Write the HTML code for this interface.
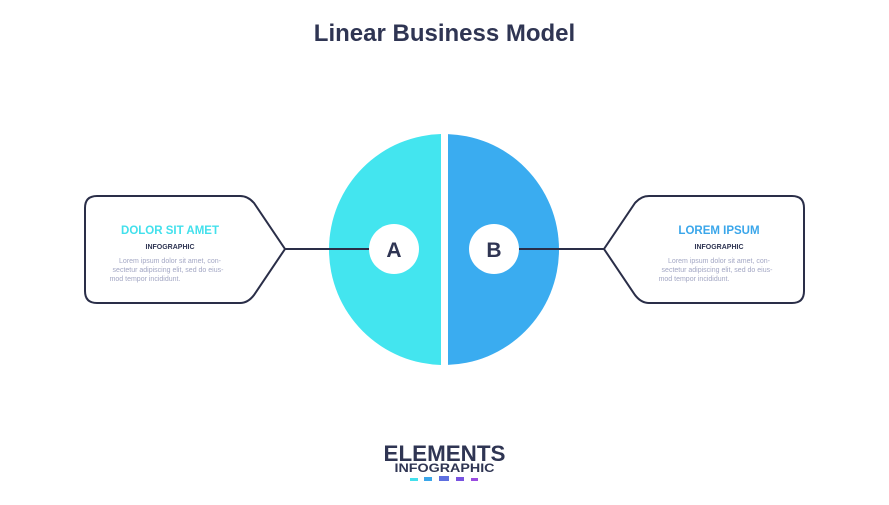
<!DOCTYPE html>
<html><head><meta charset="utf-8"><style>
body{margin:0;background:#fff;width:889px;height:500px;overflow:hidden}
svg text{font-family:"Liberation Sans",sans-serif}
</style></head><body>
<svg width="889" height="500" viewBox="0 0 889 500">
<defs>
<clipPath id="l"><rect x="300" y="120" width="141" height="260"/></clipPath>
<clipPath id="r"><rect x="448" y="120" width="141" height="260"/></clipPath>
</defs>
<text x="444.5" y="41" text-anchor="middle" font-size="24" font-weight="bold" fill="#2f3553">Linear Business Model</text>
<ellipse cx="444" cy="249.5" rx="115" ry="115.5" fill="#43e5ef" clip-path="url(#l)"/>
<ellipse cx="444" cy="249.5" rx="115" ry="115.5" fill="#3aacf0" clip-path="url(#r)"/>
<g fill="none" stroke="#2a2e48" stroke-width="2">
<path d="M97,196 L240,196 Q248,196 254,203 L285,249 L254,295 Q248,303 240,303 L97,303 Q85,303 85,291 L85,208 Q85,196 97,196 Z"/>
<line x1="285" y1="249" x2="372" y2="249"/>
<path d="M792,196 L649,196 Q641,196 635,203 L604,249 L635,295 Q641,303 649,303 L792,303 Q804,303 804,291 L804,208 Q804,196 792,196 Z"/>
<line x1="604" y1="249" x2="517" y2="249"/>
</g>
<circle cx="394" cy="249" r="25" fill="#fff"/>
<circle cx="494" cy="249" r="25" fill="#fff"/>
<text x="394" y="257" text-anchor="middle" font-size="21" font-weight="bold" fill="#2f3553">A</text>
<text x="494" y="257" text-anchor="middle" font-size="21" font-weight="bold" fill="#2f3553">B</text>
<text x="170" y="234" text-anchor="middle" font-size="11.5" font-weight="bold" fill="#43e0ec">DOLOR SIT AMET</text>
<text x="170" y="249" text-anchor="middle" font-size="7" font-weight="bold" fill="#2f3553">INFOGRAPHIC</text>
<g font-size="7" fill="#a3a7c4" text-anchor="middle">
<text x="170" y="263">Lorem ipsum dolor sit amet, con-</text>
<text x="168" y="272">sectetur adipiscing elit, sed do eius-</text>
<text x="145" y="281">mod tempor incididunt.</text>
</g>
<text x="719" y="234" text-anchor="middle" font-size="11.5" font-weight="bold" fill="#3aa6ea">LOREM IPSUM</text>
<text x="719" y="249" text-anchor="middle" font-size="7" font-weight="bold" fill="#2f3553">INFOGRAPHIC</text>
<g font-size="7" fill="#a3a7c4" text-anchor="middle">
<text x="719" y="263">Lorem ipsum dolor sit amet, con-</text>
<text x="717" y="272">sectetur adipiscing elit, sed do eius-</text>
<text x="694" y="281">mod tempor incididunt.</text>
</g>
<text x="444.5" y="461" text-anchor="middle" font-size="22" font-weight="bold" fill="#2f3553" textLength="122" lengthAdjust="spacingAndGlyphs">ELEMENTS</text>
<text x="444.5" y="472" text-anchor="middle" font-size="12" font-weight="bold" fill="#2f3553" textLength="100" lengthAdjust="spacingAndGlyphs">INFOGRAPHIC</text>
<rect x="410" y="478" width="8" height="3" fill="#43e0ec"/>
<rect x="424" y="477" width="8" height="4" fill="#3aa6ea"/>
<rect x="439" y="476" width="10" height="5" fill="#5d6fe0"/>
<rect x="456" y="477" width="8" height="4" fill="#7752e0"/>
<rect x="471" y="478" width="7" height="3" fill="#9a4be0"/>
</svg>
</body></html>
